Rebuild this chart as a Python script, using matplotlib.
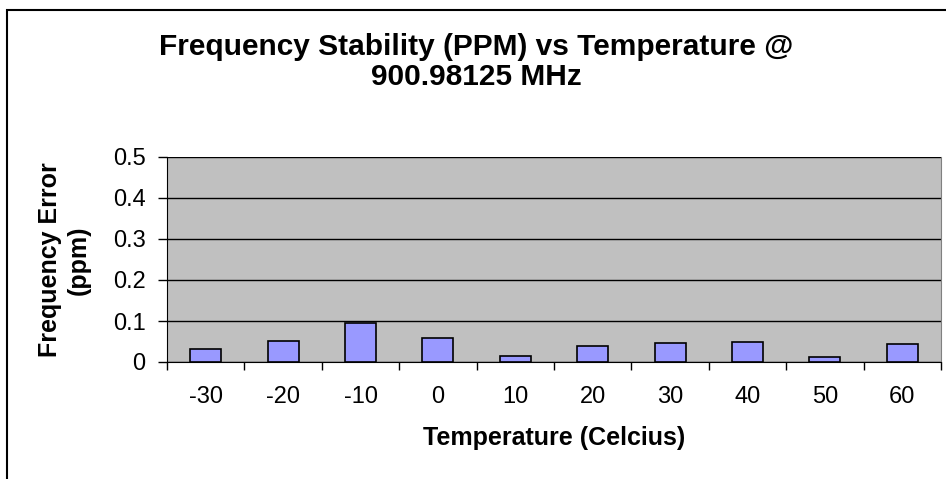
import matplotlib
matplotlib.use("Agg")
import matplotlib.pyplot as plt
from matplotlib.patches import Rectangle
import numpy as np

plt.rcParams['font.family'] = ['Liberation Sans', 'DejaVu Sans']

categories = ["-30", "-20", "-10", "0", "10", "20", "30", "40", "50", "60"]
values = [0.031, 0.051, 0.094, 0.058, 0.015, 0.039, 0.046, 0.050, 0.011, 0.043]
yticks = [0, 0.1, 0.2, 0.3, 0.4, 0.5]
ytick_labels = ["0", "0.1", "0.2", "0.3", "0.4", "0.5"]

W, H = 946, 479
fig = plt.figure(figsize=(W/100, H/100), dpi=100)
fig.patch.set_facecolor('white')

# outer chart border
fig.add_artist(Rectangle((7/W, -0.05), 1.1, 1 - 10/H + 0.05, transform=fig.transFigure,
                         fill=False, edgecolor='black', linewidth=1.5, clip_on=False))

left, right, top, bottom = 167, 941, 157, 362
ax = fig.add_axes([left/W, 1 - bottom/H, (right-left)/W, (bottom-top)/H])
ax.set_facecolor('#C0C0C0')

x = np.arange(len(categories))
ax.bar(x, values, width=0.4, color='#9999FF', edgecolor='black', linewidth=1.2, zorder=3)

ax.set_xlim(-0.5, len(categories) - 0.5)
ax.set_ylim(0, 0.5)
ax.set_yticks(yticks)
ax.set_yticklabels(ytick_labels, fontsize=17)
ax.yaxis.grid(True, color='black', linewidth=1, zorder=1)
ax.set_axisbelow(True)

ax.set_xticks(np.arange(len(categories) + 1) - 0.5)
ax.set_xticklabels([])
ax.set_xticks(x, minor=True)
ax.set_xticklabels(categories, minor=True, fontsize=17)
ax.tick_params(axis='x', which='minor', length=0, pad=17)
ax.tick_params(axis='x', which='major', length=6, width=1, color='black')
ax.tick_params(axis='y', length=6.5, width=1, pad=9)

ax.spines['top'].set_visible(False)
ax.spines['right'].set_color('#808080')
ax.spines['left'].set_color('black')
ax.spines['bottom'].set_color('black')

ax.set_xlabel("Temperature (Celcius)", fontsize=18, fontweight='bold', labelpad=13)
fig.text(64/W, 1 - 260/H, "Frequency Error\n(ppm)", rotation=90, ha='center', va='center',
         fontsize=18, fontweight='bold', linespacing=1.25)

fig.text(476/W, 1 - 62/H, "Frequency Stability (PPM) vs Temperature @\n900.98125 MHz",
         ha='center', va='center', fontsize=21.5, fontweight='bold', linespacing=1.1)

fig.savefig("out.png", dpi=100)
